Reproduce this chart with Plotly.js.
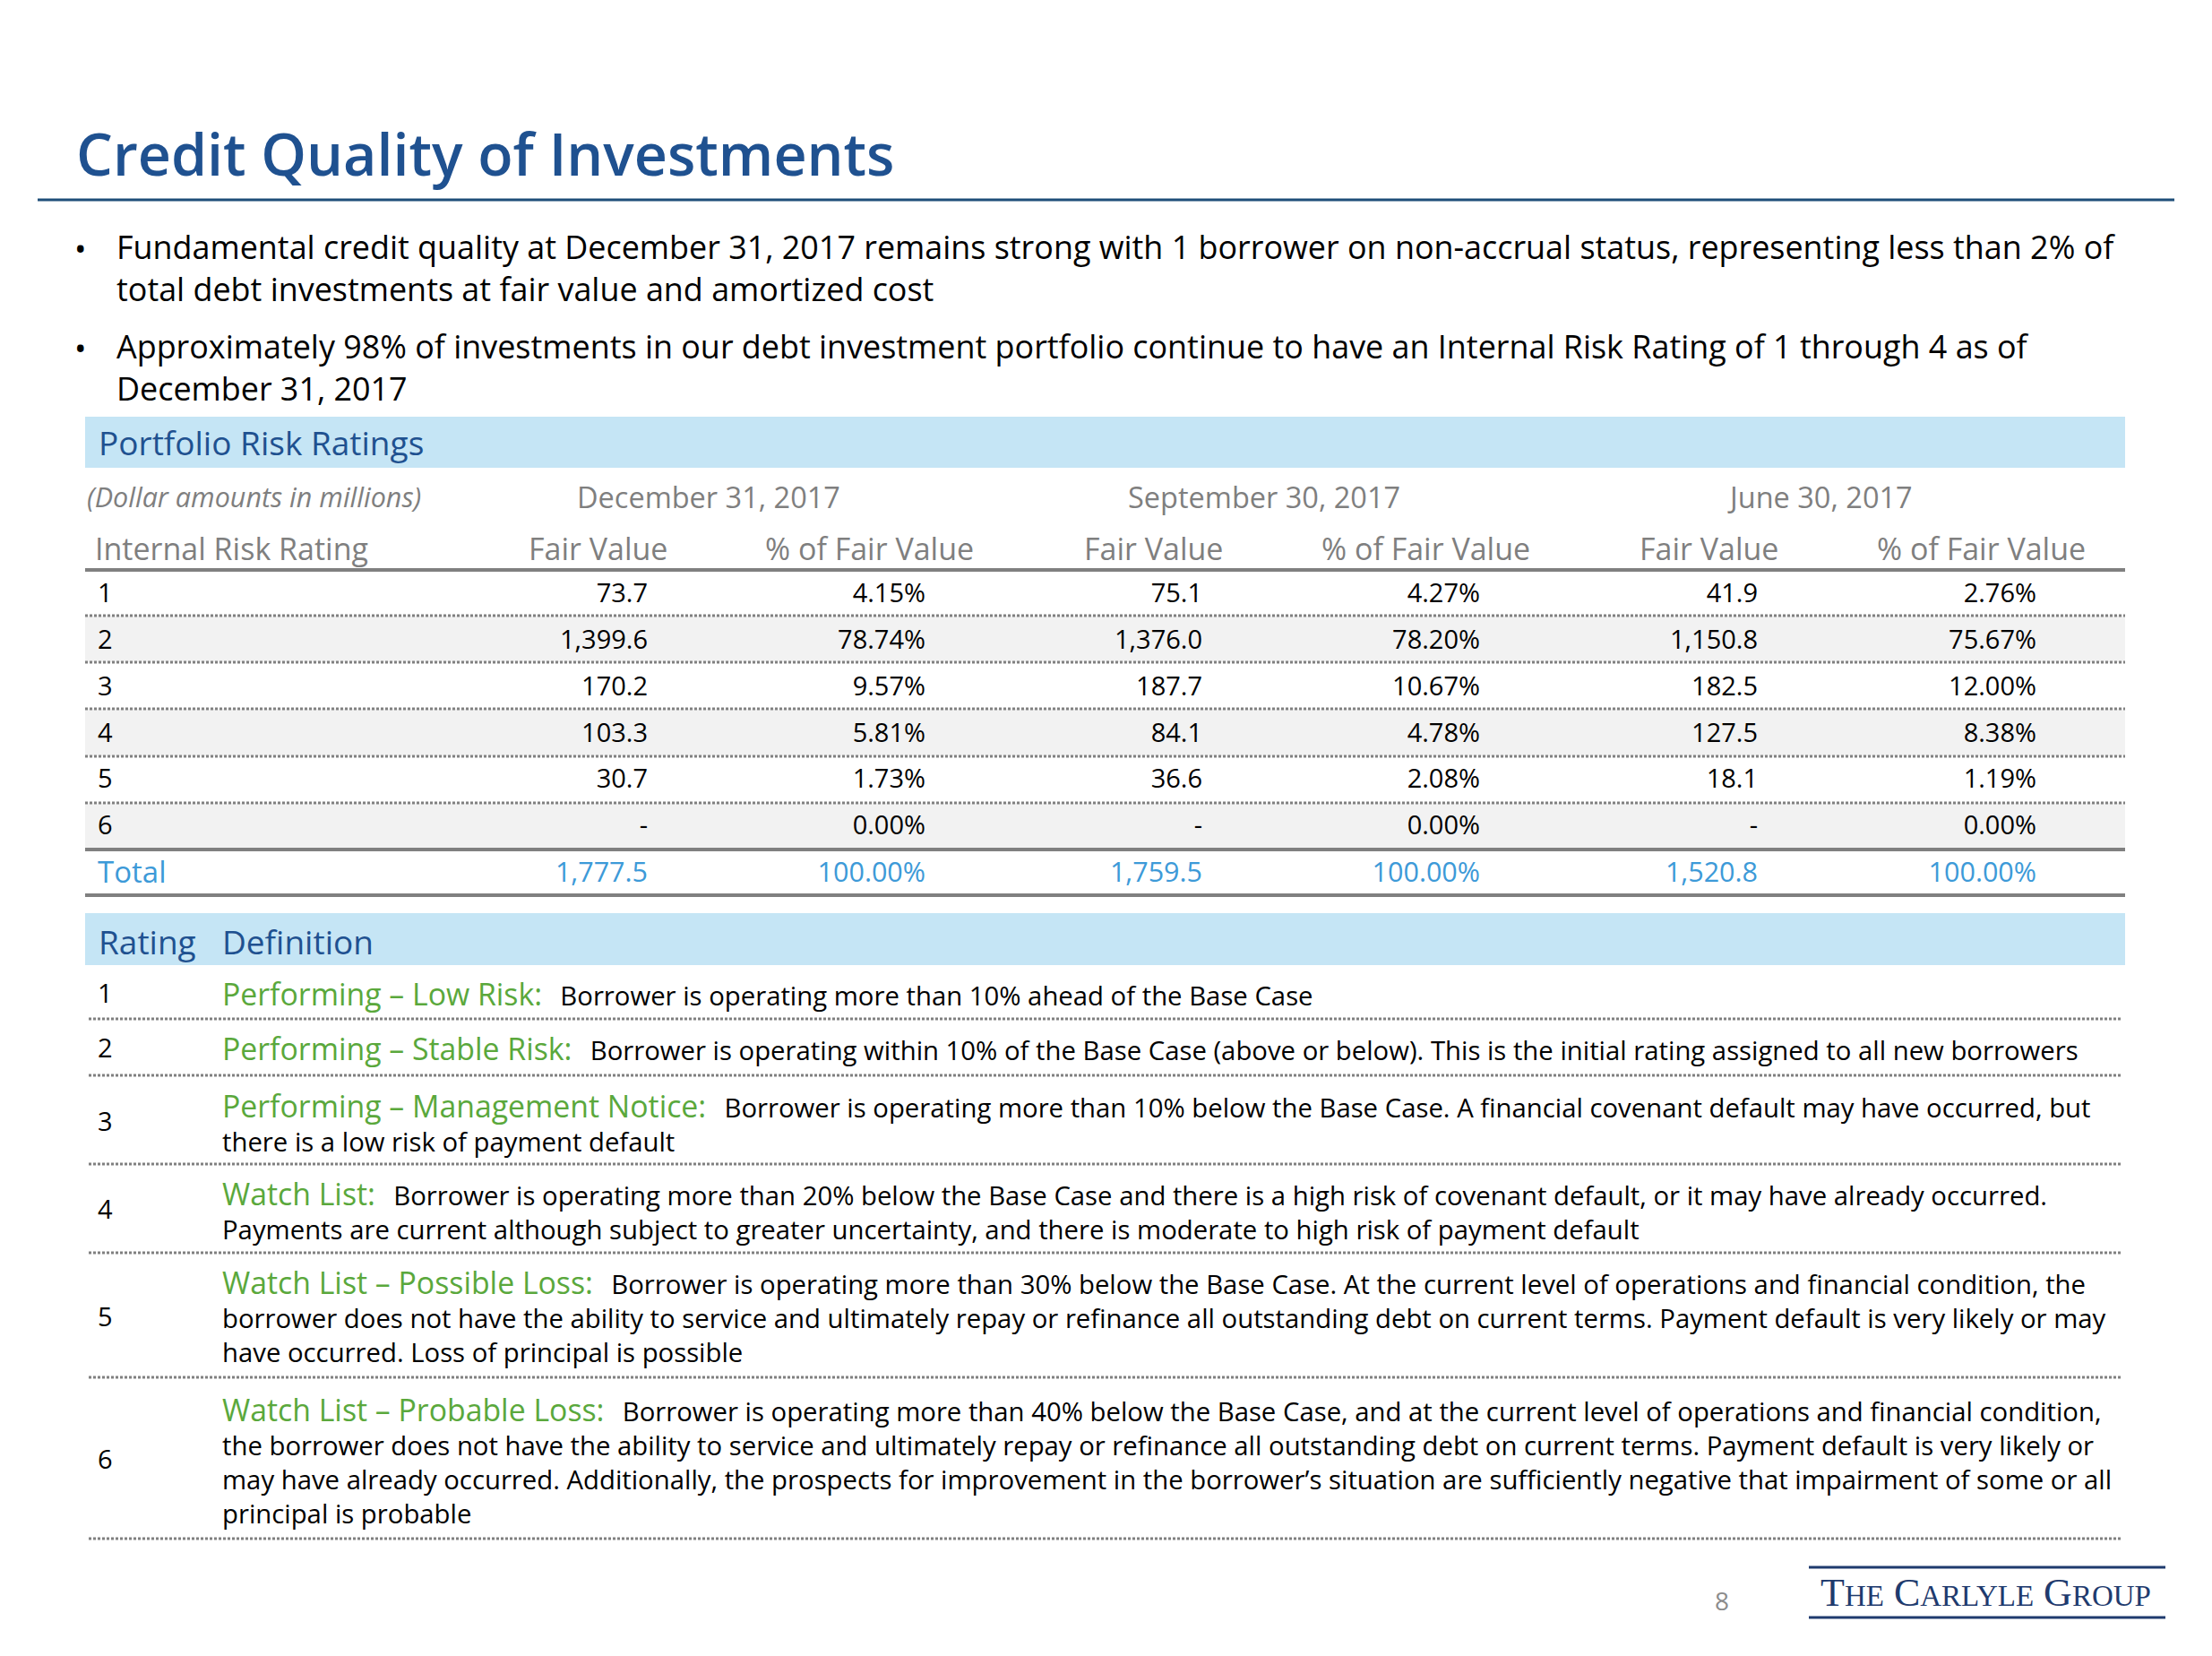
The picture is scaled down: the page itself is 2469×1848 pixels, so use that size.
<!DOCTYPE html>
<html>
<head>
<meta charset="utf-8">
<script src="https://cdn.plot.ly/plotly-3.0.1.min.js"></script>
<style>html,body{margin:0;padding:0;background:#fff;}#chart{width:2469px;height:1848px;}</style>
</head>
<body>
<div id="chart"></div>
<script>
// ---------------- DATA ----------------
const slideTitle = 'Credit Quality of Investments';
const bulletLines = [
  ['Fundamental credit quality at December 31, 2017 remains strong with 1 borrower on non-accrual status, representing less than 2% of',
   'total debt investments at fair value and amortized cost'],
  ['Approximately 98% of investments in our debt investment portfolio continue to have an Internal Risk Rating of 1 through 4 as of',
   'December 31, 2017']
];
const ratings = ['1', '2', '3', '4', '5', '6'];
const periods = ['December 31, 2017', 'September 30, 2017', 'June 30, 2017'];
const columnHeaders = ['Fair Value', '% of Fair Value'];
const fairValueDec = [73.7, 1399.6, 170.2, 103.3, 30.7, 0];
const pctDec       = [4.15, 78.74, 9.57, 5.81, 1.73, 0.00];
const fairValueSep = [75.1, 1376.0, 187.7, 84.1, 36.6, 0];
const pctSep       = [4.27, 78.20, 10.67, 4.78, 2.08, 0.00];
const fairValueJun = [41.9, 1150.8, 182.5, 127.5, 18.1, 0];
const pctJun       = [2.76, 75.67, 12.00, 8.38, 1.19, 0.00];
const totalFairValue = [1777.5, 1759.5, 1520.8];
const totalPct       = [100.00, 100.00, 100.00];
const ratingNames = [
  'Performing \u2013 Low Risk:',
  'Performing \u2013 Stable Risk:',
  'Performing \u2013 Management Notice:',
  'Watch List:',
  'Watch List \u2013 Possible Loss:',
  'Watch List \u2013 Probable Loss:'
];
const ratingDefinitions = [
  ['Borrower is operating more than 10% ahead of the Base Case'],
  ['Borrower is operating within 10% of the Base Case (above or below). This is the initial rating assigned to all new borrowers'],
  ['Borrower is operating more than 10% below the Base Case. A financial covenant default may have occurred, but',
   'there is a low risk of payment default'],
  ['Borrower is operating more than 20% below the Base Case and there is a high risk of covenant default, or it may have already occurred.',
   'Payments are current although subject to greater uncertainty, and there is moderate to high risk of payment default'],
  ['Borrower is operating more than 30% below the Base Case. At the current level of operations and financial condition, the',
   'borrower does not have the ability to service and ultimately repay or refinance all outstanding debt on current terms. Payment default is very likely or may',
   'have occurred. Loss of principal is possible'],
  ['Borrower is operating more than 40% below the Base Case, and at the current level of operations and financial condition,',
   'the borrower does not have the ability to service and ultimately repay or refinance all outstanding debt on current terms. Payment default is very likely or',
   'may have already occurred. Additionally, the prospects for improvement in the borrower\u2019s situation are sufficiently negative that impairment of some or all',
   'principal is probable']
];

// ---------------- LAYOUT GEOMETRY (pixels) ----------------
const W = 2469, H = 1848;
const FONT = '"Open Sans", "Noto Sans", sans-serif';
const C = {
  title: '#1f5190', band: '#c5e5f5', bandText: '#1f5190', gray: '#7f7f7f',
  line: '#808080', stripe: '#f2f2f2', total: '#3d9ad8', green: '#5aa83c', logo: '#1f3b6e'
};
const SZ = { title: 64.5, bullet: 35.9, band: 37, note: 30.5, period: 32.5, colHead: 34, data: 29, total: 30.5, totalLabel: 33, green: 33.8, desc: 29.3, num: 29 };
const tableLeft = 95, tableRight = 2372;
const bulletFirstY = [277, 388];
const tableRowY = [665, 717, 769, 821, 872, 924];
const totalY = 976;
const colRight = [723, 1033, 1342, 1652, 1962, 2273];
const colCenter = [667, 970, 1287, 1591, 1907, 2211];
const periodCenter = [791, 1411, 2031];
const rowSepY = [687, 739, 791, 844, 896];
const stripeRows = [[687, 739], [791, 844], [896, 948]];
const defNumY = [1112, 1173, 1255, 1353, 1473, 1632];
const defFirstLineY = [1109, 1170, 1233, 1331, 1430, 1572];
const defLineGap = 1.3 * SZ.desc;
const defSepY = [1137, 1200, 1299, 1398, 1537, 1717];

// ---------------- HELPERS ----------------
const fmtFV = v => v === 0 ? '-' : v.toLocaleString('en-US', {minimumFractionDigits: 1, maximumFractionDigits: 1});
const fmtPct = v => v.toFixed(2) + '%';
function ann(text, x, y, size, color, xanchor, extra) {
  return Object.assign({
    text: text, x: x, y: y, xref: 'x', yref: 'y', showarrow: false,
    xanchor: xanchor || 'left', yanchor: 'middle', borderpad: 0, align: 'left',
    font: {family: FONT, size: size, color: color}
  }, extra || {});
}
function hline(y, x0, x1, width, color, dash) {
  return {type: 'line', xref: 'x', yref: 'y', x0: x0, x1: x1, y0: y, y1: y,
          line: {color: color, width: width, dash: dash || 'solid'}};
}
function rect(x0, x1, y0, y1, fill) {
  return {type: 'rect', xref: 'x', yref: 'y', x0: x0, x1: x1, y0: y0, y1: y1,
          fillcolor: fill, line: {width: 0}, layer: 'below'};
}

// ---------------- TRACES ----------------
const traces = [];
function textTrace(x, y, text, pos, size, color) {
  traces.push({type: 'scatter', mode: 'text', x: x, y: y, text: text, textposition: pos,
    textfont: {family: FONT, size: size, color: color},
    hoverinfo: 'skip', showlegend: false, cliponaxis: false});
}
// rating labels in table
textTrace(ratings.map(() => 109), tableRowY, ratings, 'middle right', SZ.num, '#000');
// value columns
const valueCols = [fairValueDec, pctDec, fairValueSep, pctSep, fairValueJun, pctJun];
valueCols.forEach((arr, i) => {
  textTrace(arr.map(() => colRight[i]), tableRowY, arr.map(i % 2 ? fmtPct : fmtFV), 'middle left', SZ.data, '#000');
});
// totals
const totText = [], totX = [];
periods.forEach((p, k) => {
  totText.push(fmtFV(totalFairValue[k]), fmtPct(totalPct[k]));
  totX.push(colRight[2 * k], colRight[2 * k + 1]);
});
textTrace(totX, totX.map(() => totalY), totText, 'middle left', SZ.total, C.total);
// definition rating numbers
textTrace(ratings.map(() => 109), defNumY, ratings, 'middle right', SZ.num, '#000');

// ---------------- SHAPES ----------------
const shapes = [];
shapes.push(hline(223, 42, 2427, 3, '#1f4e79'));
shapes.push(rect(tableLeft, tableRight, 465, 522, C.band));
stripeRows.forEach(r => shapes.push(rect(tableLeft, tableRight, r[0], r[1], C.stripe)));
shapes.push(hline(636, tableLeft, tableRight, 4, C.line));
rowSepY.forEach(y => shapes.push(hline(y, tableLeft, tableRight, 3, C.line, '3px,2px')));
shapes.push(hline(948, tableLeft, tableRight, 4, C.line));
shapes.push(hline(999, tableLeft, tableRight, 4, C.line));
shapes.push(rect(tableLeft, tableRight, 1019, 1077, C.band));
defSepY.forEach(y => shapes.push(hline(y, 99, 2369, 3, C.line, '3px,2px')));
shapes.push(hline(1749, 2019, 2417, 3, C.logo));
shapes.push(hline(1805, 2019, 2417, 3, C.logo));

// ---------------- ANNOTATIONS ----------------
const anns = [];
anns.push(ann(slideTitle, 84, 171, SZ.title, C.title, 'left', {font: {family: FONT, size: SZ.title, color: C.title, weight: 600}}));
const bulletGap = 1.3 * SZ.bullet;
bulletLines.forEach((lines, b) => {
  anns.push(ann('\u2022', 90, bulletFirstY[b], SZ.bullet, '#000', 'center'));
  anns.push(ann(lines.join('<br>'), 129, bulletFirstY[b] + (lines.length - 1) * bulletGap / 2 - 1, SZ.bullet, '#000'));
});
anns.push(ann('Portfolio Risk Ratings', 109, 493, SZ.band, C.bandText));
anns.push(ann('<i>(Dollar amounts in millions)</i>', 96, 554, SZ.note, C.gray));
periods.forEach((p, k) => anns.push(ann(p, periodCenter[k], 554, SZ.period, C.gray, 'center')));
anns.push(ann('Internal Risk Rating', 105, 612, SZ.colHead, C.gray));
colCenter.forEach((x, i) => anns.push(ann(columnHeaders[i % 2], x, 612, SZ.colHead, C.gray, 'center')));
anns.push(ann('Total', 108, 972, SZ.totalLabel, C.total));
anns.push(ann('Rating', 109, 1050, SZ.band, C.bandText));
anns.push(ann('Definition', 247, 1050, SZ.band, C.bandText));
ratingDefinitions.forEach((lines, r) => {
  const label = '<span style="color:' + C.green + ';font-size:' + SZ.green + 'px">' + ratingNames[r] + '</span>';
  const gap = '<span style="font-size:26px">\u00a0\u00a0\u00a0</span>';
  const body = label + gap + lines.join('<br>');
  const yMid = defFirstLineY[r] + (lines.length - 1) * defLineGap / 2;
  anns.push(ann(body, 247, yMid, SZ.desc, '#000'));
});
anns.push(ann('8', 1922, 1786, 28, '#8c8c8c', 'center'));
anns.push(ann('T<span style="font-size:33px">HE</span> C<span style="font-size:33px">ARLYLE</span> G<span style="font-size:33px">ROUP</span>',
  2216, 1777, 44, C.logo, 'center', {font: {family: '"Liberation Serif", "DejaVu Serif", serif', size: 44, color: C.logo}}));

const layout = {
  width: W, height: H,
  margin: {l: 0, r: 0, t: 0, b: 0, pad: 0},
  paper_bgcolor: '#fff', plot_bgcolor: '#fff',
  xaxis: {range: [0, W], visible: false, fixedrange: true},
  yaxis: {range: [H, 0], visible: false, fixedrange: true},
  shapes: shapes, annotations: anns, showlegend: false
};
Plotly.newPlot('chart', traces, layout, {displayModeBar: false, staticPlot: true});
</script>
</body>
</html>
